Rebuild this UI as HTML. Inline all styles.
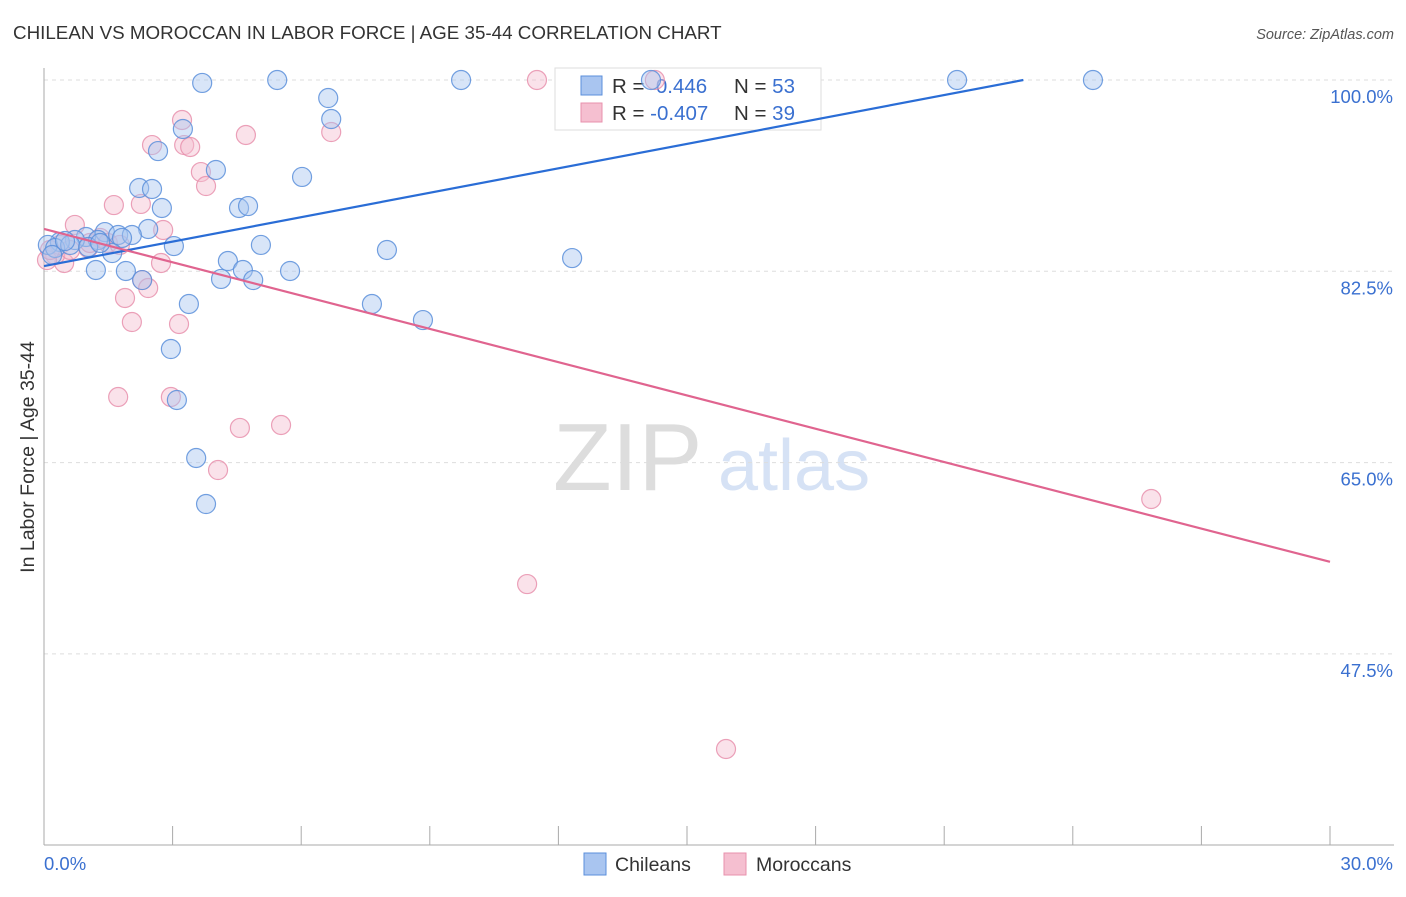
<!DOCTYPE html>
<html><head><meta charset="utf-8"><style>
body{margin:0;background:#fff;font-family:"Liberation Sans",sans-serif}
svg text{font-family:"Liberation Sans",sans-serif}
</style></head><body>
<svg id="chart" width="1406" height="892" xmlns="http://www.w3.org/2000/svg">
<text x="13" y="39" font-size="18.8" fill="#333">CHILEAN VS MOROCCAN IN LABOR FORCE | AGE 35-44 CORRELATION CHART</text>
<text x="1394" y="39" font-size="14.5" fill="#555" text-anchor="end" font-style="italic">Source: ZipAtlas.com</text>
<g>
<text x="553" y="490" font-size="96" fill="#ddd" font-family="Liberation Serif,serif">ZIP</text>
<text x="718" y="490" font-size="72" fill="#d6e2f5">atlas</text>
</g>
<g id="grid"></g>
<g id="axes"></g>
<g>
<rect x="555" y="68" width="266" height="62" fill="#fff" stroke="#ddd"/>
<rect x="581" y="76" width="21" height="19" fill="#a9c5f0" stroke="#5b8fdb"/>
<rect x="581" y="103" width="21" height="19" fill="#f5bfd0" stroke="#e891ad"/>
<text x="612" y="93" font-size="20.5" fill="#333">R = <tspan fill="#3a70d0">&#160;0.446</tspan></text>
<text x="734" y="93" font-size="20.5" fill="#333">N = <tspan fill="#3a70d0">53</tspan></text>
<text x="612" y="120" font-size="20.5" fill="#333">R = <tspan fill="#3a70d0">-0.407</tspan></text>
<text x="734" y="120" font-size="20.5" fill="#333">N = <tspan fill="#3a70d0">39</tspan></text>
</g>
<g id="marks"></g>
<text transform="translate(34,457) rotate(-90)" font-size="19.5" fill="#333" text-anchor="middle">In Labor Force | Age 35-44</text>
<g>
<rect x="584" y="853" width="22" height="22" fill="#a9c5f0" stroke="#5b8fdb"/>
<text x="615" y="871" font-size="19.5" fill="#333">Chileans</text>
<rect x="724" y="853" width="22" height="22" fill="#f5bfd0" stroke="#e891ad"/>
<text x="756" y="871" font-size="19.5" fill="#333">Moroccans</text>
</g>
</svg>
<script>
const yTicks=[100,82.5,65,47.5];
const xTickLabels=["0.0%","30.0%"];
const chileanX=[3.69,5.44,9.73,14.16,21.30,24.47,6.63,6.70,3.24,2.66,4.01,6.02,2.22,2.52,2.75,4.55,4.76,2.43,1.42,1.73,2.05,0.98,1.82,0.72,0.37,0.09,0.26,3.03,5.06,8.00,1.59,4.29,12.32,1.21,1.91,4.64,5.74,4.13,4.88,2.29,3.38,7.65,8.84,2.96,3.10,3.55,3.78,1.26,0.61,0.19,0.49,1.03,1.31];
const chileanY=[99.73,100,100,100,100,100,98.35,96.43,95.52,93.50,91.77,91.13,90.12,90.03,88.29,88.29,88.47,86.37,86.09,85.82,85.82,85.64,85.55,85.36,85.18,84.91,84.63,84.81,84.91,84.45,84.17,83.44,83.71,82.62,82.53,82.62,82.53,81.80,81.70,81.70,79.51,79.51,78.04,75.39,70.73,65.42,61.21,85.36,84.91,83.99,85.27,84.72,85.09];
const moroccanX=[11.50,14.25,3.22,4.71,6.70,2.52,3.27,3.41,3.66,3.78,1.63,2.26,2.78,0.72,1.31,1.03,2.73,0.47,0.26,0.07,2.29,2.43,1.89,2.05,3.15,1.73,2.96,4.57,5.53,4.06,25.83,11.27,15.91,1.49,0.37,0.14,1.07,0.61,1.77];
const moroccanY=[100,100,96.34,94.97,95.24,94.05,94.05,93.87,91.58,90.30,88.56,88.66,86.28,86.74,85.55,84.63,83.26,83.26,83.99,83.53,81.70,80.97,80.06,77.86,77.68,71.00,71.00,68.17,68.44,64.32,61.67,53.89,38.80,85.09,84.91,84.45,85.09,84.45,84.91];
const chileanTrend=[82.98,0.745];
const moroccanTrend=[86.37,-1.015];
const NS="http://www.w3.org/2000/svg";
const X=v=>44+v/30*1286, Y=v=>80+(100-v)/17.5*191.3;
function mk(tag,attrs,parent){const e=document.createElementNS(NS,tag);for(const k in attrs)e.setAttribute(k,attrs[k]);document.getElementById(parent).appendChild(e);return e;}
yTicks.forEach(t=>{
 const l=mk('line',{x1:44,x2:1394,y1:Y(t),y2:Y(t),stroke:'#ddd','stroke-dasharray':'4,4'},'grid');
 
 
 const tx=mk('text',{x:1393,y:Y(t)+23,'font-size':18.5,fill:'#3a70d0','text-anchor':'end'},'grid');
 tx.textContent=t.toFixed(1)+'%';
 
 
});
mk('line',{x1:44,x2:44,y1:68,y2:845,stroke:'#aaa'},'axes');
mk('line',{x1:44,x2:1394,y1:845,y2:845,stroke:'#aaa'},'axes');
for(let i=1;i<=10;i++){const t=mk('line',{x1:X(i*3),x2:X(i*3),y1:826,y2:845,stroke:'#aaa'},'axes');
 
 }
xTickLabels.forEach((s,i)=>{const t=mk('text',{x:i?1393:44,y:870,'font-size':18.5,fill:'#3a70d0','text-anchor':i?'end':'start'},'axes');t.textContent=s;
 
 });
function pts(xs,ys,fill,stroke,name){xs.forEach((x,i)=>{const c=mk('circle',{cx:X(x),cy:Y(ys[i]),r:9.5,fill:fill,'fill-opacity':0.45,stroke:stroke,'stroke-width':1.2,'stroke-opacity':0.85},'marks');
 
 });}
pts(moroccanX,moroccanY,'#f5bfd0','#e891ad','moroccan-point');
pts(chileanX,chileanY,'#a9c5f0','#5b8fdb','chilean-point');
const bEnd=Math.min(30,(100-chileanTrend[0])/chileanTrend[1]);
const bl=mk('line',{x1:X(0),y1:Y(chileanTrend[0]),x2:X(bEnd),y2:Y(chileanTrend[0]+chileanTrend[1]*bEnd),stroke:'#2a6dd6','stroke-width':2.2},'marks');


const pl=mk('line',{x1:X(0),y1:Y(moroccanTrend[0]),x2:X(30),y2:Y(moroccanTrend[0]+moroccanTrend[1]*30),stroke:'#e0648f','stroke-width':2.2},'marks');


</script>
</body></html>
